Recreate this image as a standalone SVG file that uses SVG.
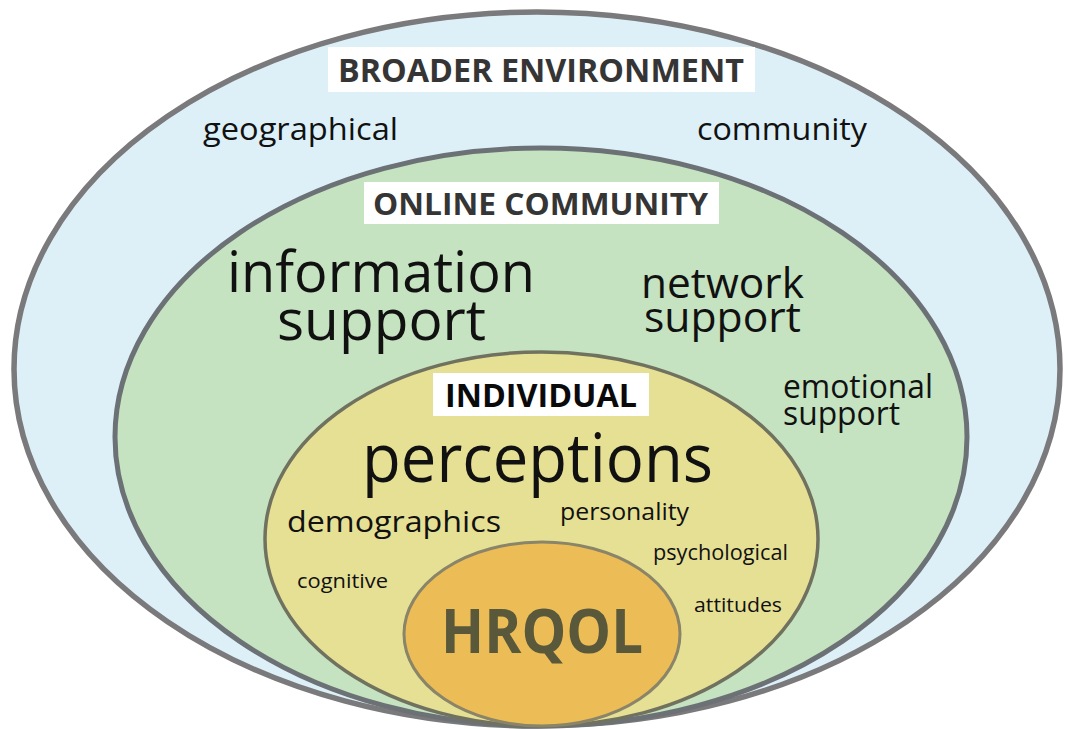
<svg xmlns="http://www.w3.org/2000/svg" width="1068" height="729" viewBox="0 0 1068 729">
<style>
.t{font-family:"Open Sans","Liberation Sans",sans-serif;fill:#111;}
.h{font-family:"Open Sans","Liberation Sans",sans-serif;font-weight:bold;fill:#353535;}
.box{fill:#fff;}
</style>
<rect width="1068" height="729" fill="#fff"/>
<g id="broader">
<ellipse cx="537" cy="369" rx="523" ry="357" fill="#ddf0f8" stroke="#7a797b" stroke-width="5.5"/>
<rect class="box" x="328" y="47" width="427" height="45"/>
<text class="h" x="338" y="82" font-size="33" textLength="406" lengthAdjust="spacingAndGlyphs">BROADER ENVIRONMENT</text>
<text class="t" x="203" y="140" font-size="31" textLength="195" lengthAdjust="spacingAndGlyphs">geographical</text>
<text class="t" x="697" y="140" font-size="31" textLength="170" lengthAdjust="spacingAndGlyphs">community</text>
</g>
<g id="online">
<ellipse cx="541" cy="437" rx="426" ry="289" fill="#c5e3c0" stroke="#6c7176" stroke-width="5"/>
<rect class="box" x="364" y="182" width="355" height="42"/>
<text class="h" x="373" y="215" font-size="31" textLength="335" lengthAdjust="spacingAndGlyphs">ONLINE COMMUNITY</text>
<text class="t" x="227" y="292" font-size="57" textLength="308" lengthAdjust="spacingAndGlyphs">information</text>
<text class="t" x="277" y="340" font-size="57" textLength="209" lengthAdjust="spacingAndGlyphs">support</text>
<text class="t" x="641" y="298" font-size="42" textLength="163" lengthAdjust="spacingAndGlyphs">network</text>
<text class="t" x="644" y="332" font-size="42" textLength="157" lengthAdjust="spacingAndGlyphs">support</text>
<text class="t" x="783" y="398" font-size="32" textLength="150" lengthAdjust="spacingAndGlyphs">emotional</text>
<text class="t" x="783" y="425" font-size="32" textLength="117" lengthAdjust="spacingAndGlyphs">support</text>
</g>
<g id="individual">
<ellipse cx="541.5" cy="539" rx="276.5" ry="187" fill="#e6e095" stroke="#70725f" stroke-width="3.5"/>
<rect class="box" x="433" y="373" width="216" height="43"/>
<text class="h" x="445" y="407" font-size="32" style="fill:#0a0a0a" textLength="192" lengthAdjust="spacingAndGlyphs">INDIVIDUAL</text>
<text class="t" x="362" y="482" font-size="68" textLength="351" lengthAdjust="spacingAndGlyphs">perceptions</text>
<text class="t" x="287" y="532" font-size="30" textLength="214" lengthAdjust="spacingAndGlyphs">demographics</text>
<text class="t" x="560" y="520" font-size="23" textLength="129" lengthAdjust="spacingAndGlyphs">personality</text>
<text class="t" x="653" y="560" font-size="21" textLength="135" lengthAdjust="spacingAndGlyphs">psychological</text>
<text class="t" x="694" y="612" font-size="20" textLength="88" lengthAdjust="spacingAndGlyphs">attitudes</text>
<text class="t" x="297" y="588" font-size="20" textLength="91" lengthAdjust="spacingAndGlyphs">cognitive</text>
</g>
<g id="hrqol">
<ellipse cx="542" cy="634" rx="138" ry="92" fill="#ecbd56" stroke="#8a8468" stroke-width="3"/>
<text class="h" x="441" y="653" font-size="60" style="fill:#59583a" textLength="202" lengthAdjust="spacingAndGlyphs">HRQOL</text>
</g>
<g id="connectors"></g>
</svg>
